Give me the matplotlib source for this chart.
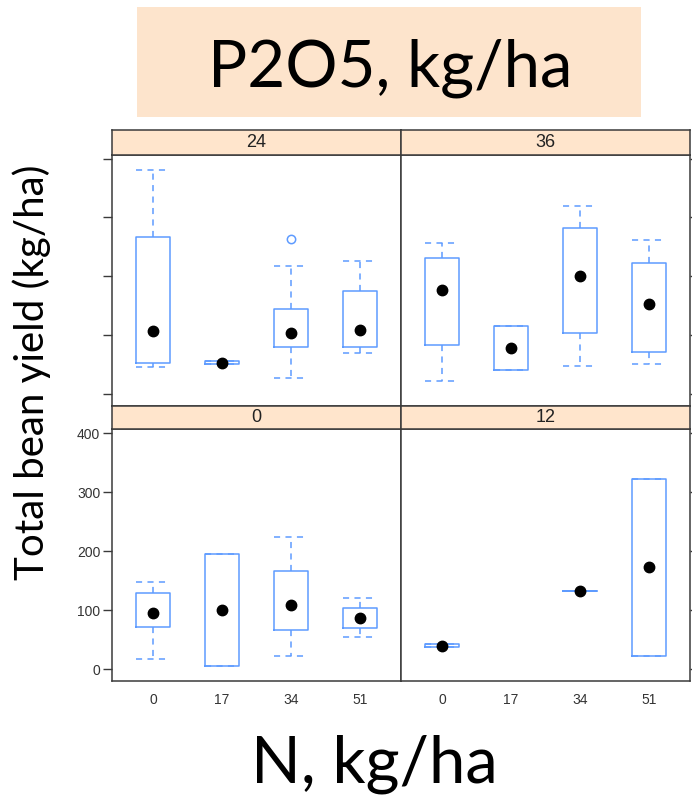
import matplotlib
matplotlib.use("Agg")
import matplotlib.pyplot as plt
from matplotlib.patches import Rectangle

# N levels (x categories) and P2O5 panels
n_levels = ["0", "17", "34", "51"]
panels = ["24", "36", "0", "12"]

# box stats per panel, one entry per N level (None = no data)
whislo = {"24": [45, 51, 27, 69], "36": [21, 40, 47, 51],
          "0": [17, 6, 22, 55], "12": [37, None, 132, 23]}
q1 = {"24": [53, 51, 79, 80], "36": [83, 40, 103, 71],
      "0": [71, 6, 66, 70], "12": [37, None, 132, 23]}
med = {"24": [106, 53, 104, 109], "36": [176, 78, 201, 153],
       "0": [96, 101, 109, 86], "12": [40, None, 132, 173]}
q3 = {"24": [266, 55, 145, 175], "36": [231, 115, 282, 223],
      "0": [129, 196, 166, 103], "12": [43, None, 132, 323]}
whishi = {"24": [381, 55, 218, 225], "36": [257, 115, 320, 261],
          "0": [148, 196, 224, 120], "12": [43, None, 132, 323]}
fliers = {"24": [[], [], [263], []], "36": [[], [], [], []],
          "0": [[], [], [], []], "12": [[], [], [], []]}

yticks = [0, 100, 200, 300, 400]

W, H = 692, 800
fig = plt.figure(figsize=(W / 100, H / 100), dpi=100)
plt.rcParams["font.family"] = ["Liberation Sans", "DejaVu Sans"]


def px(x0, y0, x1, y1):
    return [x0 / W, 1 - y1 / H, (x1 - x0) / W, (y1 - y0) / H]


blue = "#5e9bff"
edge = "#3a3a3a"
strip_col = "#ffe5cc"

cols = [(112, 401), (401, 690)]
rows = [((130, 154.5), (154.5, 405.5)), ((405.5, 429), (429, 681))]
layout = {"24": (0, 0), "36": (0, 1), "0": (1, 0), "12": (1, 1)}

for p in panels:
    r, c = layout[p]
    x0, x1 = cols[c]
    (s0, s1), (p0, p1) = rows[r]

    ax = fig.add_axes(px(x0, p0, x1, p1))
    stats, pos = [], []
    for i in range(len(n_levels)):
        if med[p][i] is None:
            continue
        stats.append(dict(whislo=whislo[p][i], q1=q1[p][i], med=med[p][i],
                          q3=q3[p][i], whishi=whishi[p][i], fliers=fliers[p][i]))
        pos.append(i + 1)
    ax.bxp(stats, positions=pos, widths=0.5, capwidths=0.5,
           boxprops=dict(color=blue, lw=1.1),
           whiskerprops=dict(color=blue, lw=1.1, linestyle=(0, (4, 3.5))),
           capprops=dict(color=blue, lw=1.1, linestyle=(0, (4, 3.5))),
           medianprops=dict(visible=False),
           flierprops=dict(marker="o", markerfacecolor="none",
                           markeredgecolor=blue, markersize=6, mew=1.1))
    ax.plot(pos, [s["med"] for s in stats], "o", color="black", ms=7.5, zorder=5)

    ax.set_xlim(0.4, 4.6)
    ax.set_ylim(-20, 407)
    ax.set_yticks(yticks)
    ax.set_xticks(range(1, 5))
    for s in ax.spines.values():
        s.set_color(edge)
        s.set_linewidth(1.1)
    ax.tick_params(colors=edge, labelcolor="#333333", labelsize=10,
                   width=1, length=6.5, pad=2)
    if c == 1:
        ax.yaxis.tick_right()
    if not (r == 1 and c == 0):
        ax.set_yticklabels([])
    if r == 1:
        ax.set_xticklabels(n_levels)
        ax.tick_params(axis="x", length=0, pad=9)
    else:
        ax.tick_params(axis="x", bottom=False, labelbottom=False)

    sax = fig.add_axes(px(x0, s0, x1, s1))
    sax.set_facecolor(strip_col)
    sax.set_xticks([])
    sax.set_yticks([])
    for s in sax.spines.values():
        s.set_color(edge)
        s.set_linewidth(1.1)
    sax.text(0.5, 0.48, p, ha="center", va="center", fontsize=13,
             color="#222222", transform=sax.transAxes)

# title box on top
fig.add_artist(Rectangle((137 / W, 1 - 117 / H), (641 - 137) / W, 110 / H,
                         transform=fig.transFigure, facecolor="#fde4cc",
                         edgecolor="none"))
fig.text(390 / W, 1 - 87 / H, "P2O5, kg/ha", ha="center", va="baseline",
         fontsize=47, family="Lato", color="black")

fig.text(374 / W, 1 - 782 / H, "N, kg/ha", ha="center", va="baseline",
         fontsize=47, family="Lato", color="black")
fig.text(32 / W, 1 - 372 / H, "Total bean yield (kg/ha)", ha="center",
         va="center", rotation=90, fontsize=29, family="Lato", color="black")

fig.savefig("out.png", dpi=100)
